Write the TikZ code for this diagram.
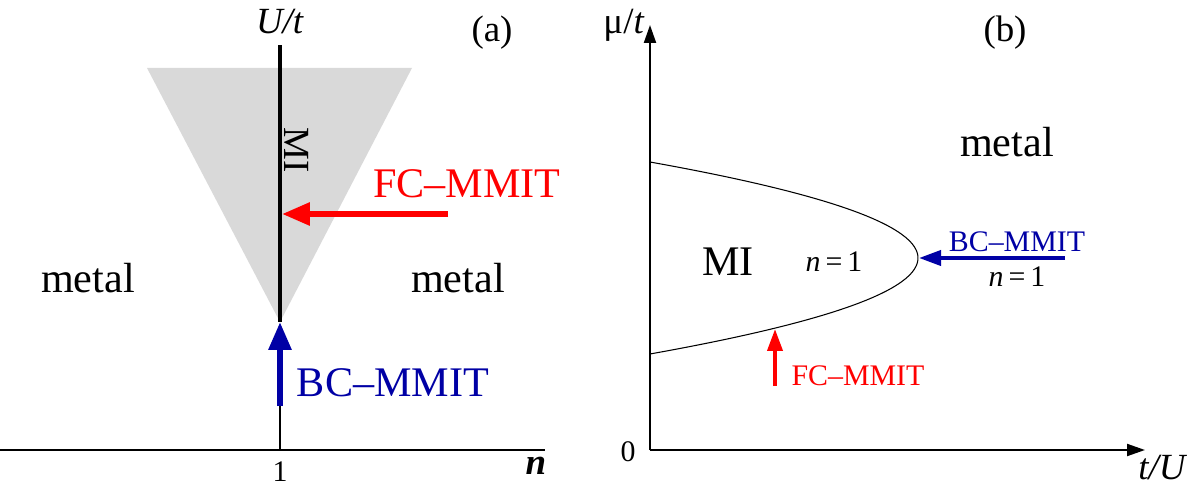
\documentclass[tikz,border=0pt]{standalone}
\usepackage{fontspec}
\setmainfont{Liberation Serif}
\usetikzlibrary{arrows.meta}
\definecolor{miGray}{RGB}{217,217,217}
\definecolor{bcblue}{RGB}{0,0,165}

\begin{document}
\begin{tikzpicture}[
        x=0.02cm, y=-0.02cm,
        big/.style={font=\fontsize{24}{28}\selectfont},
        mid/.style={font=\fontsize{21}{25}\selectfont},
        small/.style={font=\fontsize{17}{20}\selectfont},
        axis/.style={line width=1.2pt},
        fat/.style={line width=3.4pt, -{Triangle[length=0.56cm,width=0.44cm]}},
        slim/.style={line width=2.2pt, -{Triangle[length=0.44cm,width=0.3cm]}},
        inner sep=0pt
    ]
        \useasboundingbox (0,0) rectangle (1187,486);

        % Panel (a)
        \coordinate (aLeft) at (0,450);
        \coordinate (aRight) at (545,450);
        \coordinate (nOne) at (280,450);
        \coordinate (uTop) at (280,45);
        \coordinate (apex) at (280,322);
        \coordinate (bcTail) at (280,406);
        \coordinate (fcTail) at (448,214);
        \coordinate (fcTip) at (282,214);
        \fill[miGray] (147,68) -- (412,68) -- (apex) -- cycle;
        \draw[axis] (aLeft) -- (aRight);
        \draw[axis] (nOne) -- (bcTail);
        \draw[line width=2.6pt] (apex) -- (uTop);
        \draw[fat, bcblue] (bcTail) -- (apex);
        \draw[fat, red] (fcTail) -- (fcTip);

        \node[small] (one) at (280,472) {1};
        \node[font=\fontsize{21}{25}\selectfont\bfseries\itshape] (nLab) at (536,466) {n};
        \node[mid] (ut) at (280,22) {\textit{U/t}};
        \node[mid] (aLab) at (492,33) {(a)};
        \node[mid, rotate=-90] (miA) at (297,150) {MI};
        \node[big, red] (fcLabA) at (467,184) {FC–MMIT};
        \node[big] (metalL) at (88,278) {metal};
        \node[big] (metalR) at (458,278) {metal};
        \node[big, bcblue] (bcLabA) at (393,383) {BC–MMIT};

        % Panel (b)
        \coordinate (origin) at (650,450);
        \coordinate (muTop) at (650,25);
        \coordinate (tuEnd) at (1145,450);
        \coordinate (nose) at (919,258);
        \coordinate (bcTailB) at (1065,258);
        \coordinate (fcTailB) at (775,386);
        \coordinate (fcTipB) at (775,329);
        \draw[axis, -{Triangle[length=0.36cm,width=0.24cm]}] (origin) -- (muTop);
        \draw[axis, -{Triangle[length=0.36cm,width=0.24cm]}] (origin) -- (tuEnd);
        \draw[line width=0.6pt] plot[domain=-1:1, samples=80] ({650+268*(1-\x*\x)},{258+96*\x});
        \draw[slim, bcblue] (bcTailB) -- (nose);
        \draw[slim, red] (fcTailB) -- (fcTipB);

        \node[mid] (mu) at (624,25) {μ/\textit{t}};
        \node[small] (zero) at (628,452) {0};
        \node[mid] (tu) at (1163,468) {\textit{t/U}};
        \node[mid] (bLab) at (1005,33) {(b)};
        \node[big] (metalB) at (1007,142) {metal};
        \node[big] (miB) at (728,262) {MI};
        \node[small] (nB) at (834,262) {\textit{n}\,=\,1};
        \node[small, bcblue] (bcLabB) at (1017,242) {BC–MMIT};
        \node[small] (nBC) at (1017,277) {\textit{n}\,=\,1};
        \node[small, red] (fcLabB) at (858,376) {FC–MMIT};
    \end{tikzpicture}
\end{document}
